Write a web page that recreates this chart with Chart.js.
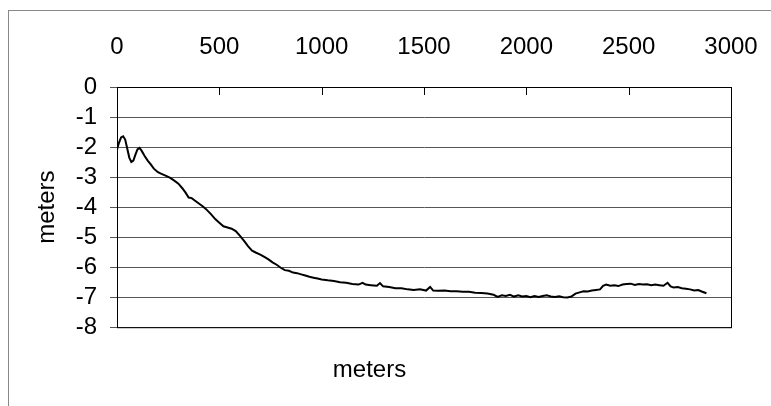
<!DOCTYPE html>
<html>
<head>
<meta charset="utf-8">
<script src="https://cdn.jsdelivr.net/npm/chart.js@4/dist/chart.umd.min.js"></script>
<style>
    body { margin: 0; background: #fff; }
    #wrap { position: relative; width: 771px; height: 406px; }
    #frame { position: absolute; left: 8px; top: 10px; right: 0; bottom: 0; border-left: 1px solid #888; border-top: 1px solid #888; }
    canvas { position: absolute; left: 0; top: 0; }
</style>
</head>
<body>
<div id="wrap">
    <div id="frame"></div>
    <canvas id="myChart" width="771" height="406"></canvas>
</div>
<script>
// distance along profile (m) and depth (m)
var dist = [0, 10, 20, 30, 40, 50, 60, 70, 80, 90, 100, 110, 120, 135, 150, 165, 180, 200, 220, 240,
    260, 280, 300, 320, 335, 350, 365, 380, 400, 420, 440, 460, 480, 500, 520, 540, 560, 580, 600, 620,
    640, 660, 680, 700, 720, 740, 760, 780, 800, 820, 840, 860, 880, 900, 920, 940, 960, 980, 1000, 1030,
    1060, 1090, 1120, 1150, 1180, 1200, 1215, 1240, 1270, 1285, 1300, 1330, 1360, 1390, 1420, 1450, 1480, 1510, 1530, 1545,
    1570, 1600, 1630, 1660, 1690, 1720, 1750, 1780, 1810, 1840, 1860, 1880, 1900, 1920, 1940, 1960, 1980, 2000, 2020, 2040,
    2060, 2080, 2100, 2120, 2140, 2160, 2180, 2200, 2220, 2240, 2260, 2280, 2300, 2320, 2340, 2360, 2375, 2390, 2410, 2430,
    2450, 2470, 2490, 2510, 2530, 2550, 2570, 2590, 2610, 2630, 2650, 2670, 2690, 2705, 2720, 2740, 2760, 2780, 2800, 2820,
    2840, 2860, 2880];
var depth = [-2.08, -1.85, -1.68, -1.64, -1.75, -2.05, -2.35, -2.50, -2.45, -2.25, -2.08, -2.03, -2.12, -2.30, -2.45, -2.58, -2.72, -2.84, -2.90, -2.96,
    -3.03, -3.12, -3.22, -3.38, -3.52, -3.68, -3.70, -3.78, -3.88, -3.98, -4.10, -4.24, -4.40, -4.52, -4.64, -4.68, -4.72, -4.80, -4.95, -5.12,
    -5.30, -5.45, -5.52, -5.58, -5.66, -5.74, -5.84, -5.92, -6.02, -6.10, -6.12, -6.18, -6.20, -6.24, -6.28, -6.32, -6.35, -6.38, -6.41, -6.44,
    -6.46, -6.50, -6.52, -6.56, -6.58, -6.52, -6.58, -6.60, -6.62, -6.53, -6.64, -6.66, -6.70, -6.70, -6.74, -6.76, -6.74, -6.78, -6.66, -6.78,
    -6.79, -6.78, -6.80, -6.80, -6.82, -6.82, -6.85, -6.86, -6.88, -6.92, -6.99, -6.94, -6.96, -6.92, -6.98, -6.94, -6.98, -6.96, -7.00, -6.96,
    -6.99, -6.96, -6.94, -6.98, -6.99, -6.97, -7.00, -7.01, -6.98, -6.88, -6.84, -6.80, -6.81, -6.78, -6.76, -6.74, -6.62, -6.58, -6.62, -6.60,
    -6.63, -6.58, -6.56, -6.55, -6.59, -6.56, -6.58, -6.57, -6.60, -6.58, -6.60, -6.62, -6.52, -6.64, -6.68, -6.66, -6.70, -6.72, -6.74, -6.78,
    -6.76, -6.82, -6.87];
var xTicks = [0, 500, 1000, 1500, 2000, 2500, 3000];
var yTicks = [0, -1, -2, -3, -4, -5, -6, -7, -8];

var points = dist.map((d, i) => ({ x: d, y: depth[i] }));
var font = { family: "'Liberation Sans', Arial, sans-serif", size: 24 };

// frame around plot + small tick marks pointing down from top axis
var plotFrame = {
    id: "plotFrame",
    afterDraw: chart => {
        var ctx = chart.ctx;
        var a = chart.chartArea;
        var xs = chart.scales.x;
        ctx.save();
        ctx.strokeStyle = "#000";
        ctx.lineWidth = 1;
        ctx.strokeRect(a.left + 0.5, a.top + 0.5, a.right - a.left, a.bottom - a.top);
        ctx.beginPath();
        xTicks.forEach(t => {
            var px = Math.round(xs.getPixelForValue(t)) + 0.5;
            ctx.moveTo(px, a.top);
            ctx.lineTo(px, a.top + 8);
        });
        ctx.stroke();
        ctx.restore();
    }
};

var ctx = document.getElementById("myChart").getContext("2d");
var chart = new Chart(ctx, {
    type: "line",
    data: {
        datasets: [{
            data: points,
            borderColor: "#000",
            borderWidth: 2,
            pointRadius: 0,
            tension: 0,
            fill: false
        }]
    },
    options: {
        responsive: false,
        animation: false,
        layout: { padding: { left: 8, top: 10, right: 40, bottom: 0 } },
        plugins: {
            legend: { display: false },
            tooltip: { enabled: false },
            title: {
                display: true,
                position: "bottom",
                text: "meters",
                color: "#000",
                font: { family: font.family, size: 24, weight: "normal" },
                padding: { top: 29, bottom: 21 }
            }
        },
        scales: {
            x: {
                type: "linear",
                position: "top",
                min: 0,
                max: 3000,
                afterBuildTicks: s => { s.ticks = xTicks.map(v => ({ value: v })); },
                afterFit: s => { s.height = 77; s.paddingRight = 0; },
                ticks: { color: "#000", font: font, padding: 17, maxRotation: 0, autoSkip: false, callback: v => String(v) },
                grid: { display: false },
                border: { display: true, color: "#000" }
            },
            y: {
                min: -8,
                max: 0,
                afterBuildTicks: s => { s.ticks = yTicks.map(v => ({ value: v })); },
                afterFit: s => { s.width = 109; },
                ticks: { color: "#000", font: font, padding: 13, autoSkip: false, callback: v => String(v) },
                grid: { color: "#555", tickLength: 7, lineWidth: 1 },
                border: { display: true, color: "#000", width: 1 },
                title: {
                    display: true,
                    text: "meters",
                    color: "#000",
                    font: font,
                    padding: { top: 25, bottom: 0 }
                }
            }
        }
    },
    plugins: [plotFrame]
});
</script>
</body>
</html>
